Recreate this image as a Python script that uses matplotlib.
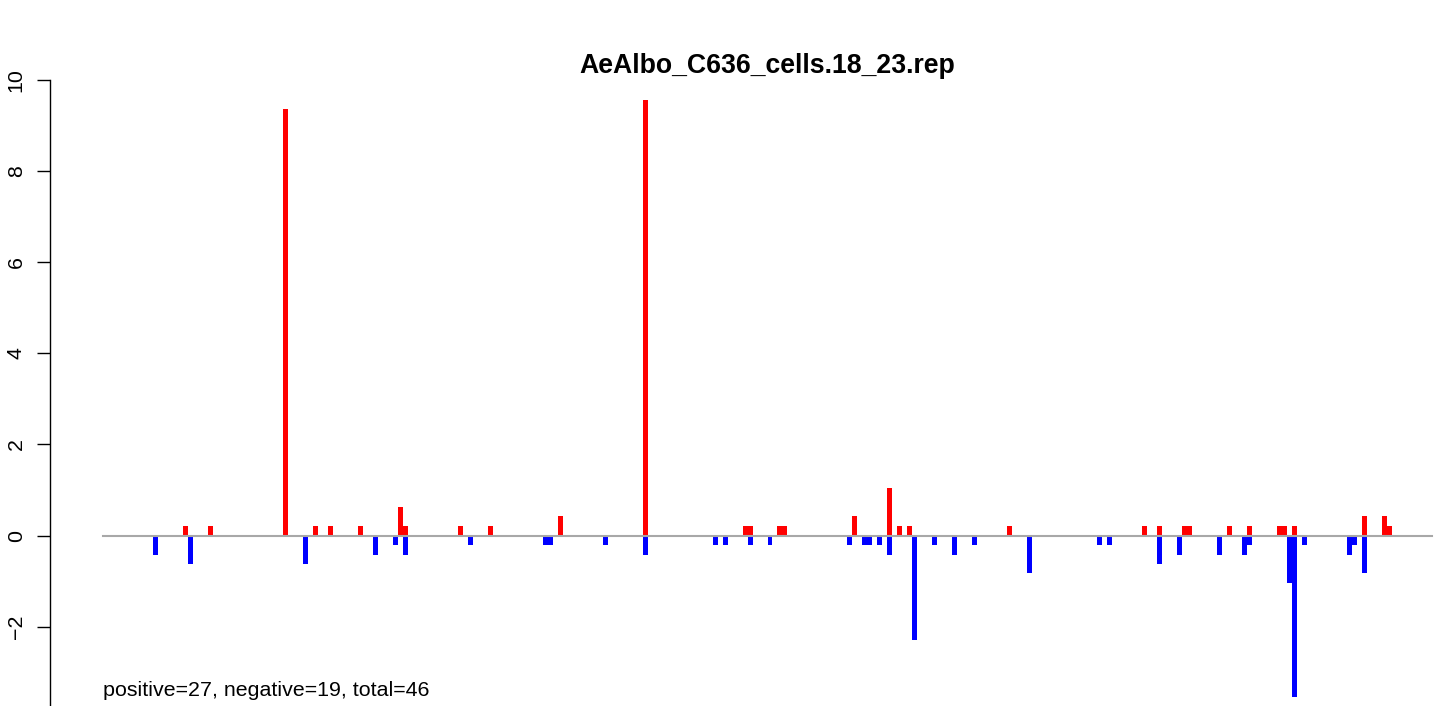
import numpy as np
import matplotlib
matplotlib.use("Agg")
import matplotlib.pyplot as plt

plt.rcParams['font.family'] = ['Liberation Sans', 'DejaVu Sans']

# dados (posicao do bin, valor normalizado)
titulo = "AeAlbo_C636_cells.18_23.rep"
n_bins = 266

pos_bins = [16, 21, 36, 42, 45, 51, 59, 60, 71, 77, 91, 108, 128, 129, 135, 136,
            150, 157, 159, 161, 181, 208, 211, 216, 217, 225, 229, 235, 236, 238,
            252, 256, 257]
pos_vals = [0.21, 0.21, 9.36, 0.21, 0.21, 0.21, 0.62, 0.21, 0.21, 0.21, 0.42, 9.57,
            0.21, 0.21, 0.21, 0.21, 0.42, 1.04, 0.21, 0.21, 0.21, 0.21, 0.21, 0.21,
            0.21, 0.21, 0.21, 0.21, 0.21, 0.21, 0.42, 0.42, 0.21]

neg_bins = [10, 17, 40, 54, 58, 60, 73, 88, 89, 100, 108, 122, 124, 129, 133, 149,
            152, 153, 155, 157, 162, 166, 170, 174, 185, 199, 201, 211, 215, 223,
            228, 229, 237, 238, 240, 249, 250, 252]
neg_vals = [-0.42, -0.62, -0.62, -0.42, -0.21, -0.42, -0.21, -0.21, -0.21, -0.21,
            -0.42, -0.21, -0.21, -0.21, -0.21, -0.21, -0.21, -0.21, -0.21, -0.42,
            -2.29, -0.21, -0.42, -0.21, -0.83, -0.21, -0.21, -0.62, -0.42, -0.42,
            -0.42, -0.21, -1.04, -3.54, -0.21, -0.42, -0.21, -0.83]

resumo = "positive=27, negative=19, total=46"
y_ticks = [-2, 0, 2, 4, 6, 8, 10]

# figura no estilo do R
W, H = 1439, 706
fig = plt.figure(figsize=(W / 100, H / 100), dpi=100)

# plot region em pixels (estende alem da figura, como no original)
px_left, px_right = 50, 1485
y_lo, y_hi = -4.2, 10.1
ppu = 45.55
px_top = 535.5 - y_hi * ppu
px_bot = 535.5 - y_lo * ppu
ax = fig.add_axes([px_left / W, (H - px_bot) / H,
                   (px_right - px_left) / W, (px_bot - px_top) / H])

ax.bar(pos_bins, pos_vals, width=1.0, align='edge', color='#ff0000', linewidth=0)
ax.bar(neg_bins, neg_vals, width=1.0, align='edge', color='#0000ff', linewidth=0)
ax.plot([0, n_bins], [0, 0], color='#a8a8a8', lw=1.5, zorder=3)

ax.set_xlim(-0.04 * n_bins, 1.04 * n_bins)
ax.set_ylim(y_lo, y_hi)

for s in ['top', 'right', 'bottom']:
    ax.spines[s].set_visible(False)
# o eixo desce ate -4, fora da figura
ax.spines['left'].set_bounds(-4, 10)
ax.spines['left'].set_linewidth(1.0)
ax.set_xticks([])
ax.set_yticks(y_ticks)
ax.set_yticklabels([str(t).replace('-', '\u2212') for t in y_ticks],
                   rotation=90, va='center', fontsize=15.4)
ax.tick_params(axis='y', length=9.4, width=1.0, pad=8)

ax.text(0, -3.52, resumo, fontsize=15.4, ha='left', va='baseline')
fig.text((px_left + px_right) / 2 / W, 1 - 73 / H, titulo, fontsize=19.2,
         fontweight='bold', ha='center', va='baseline')

fig.savefig('out.png', dpi=100)
